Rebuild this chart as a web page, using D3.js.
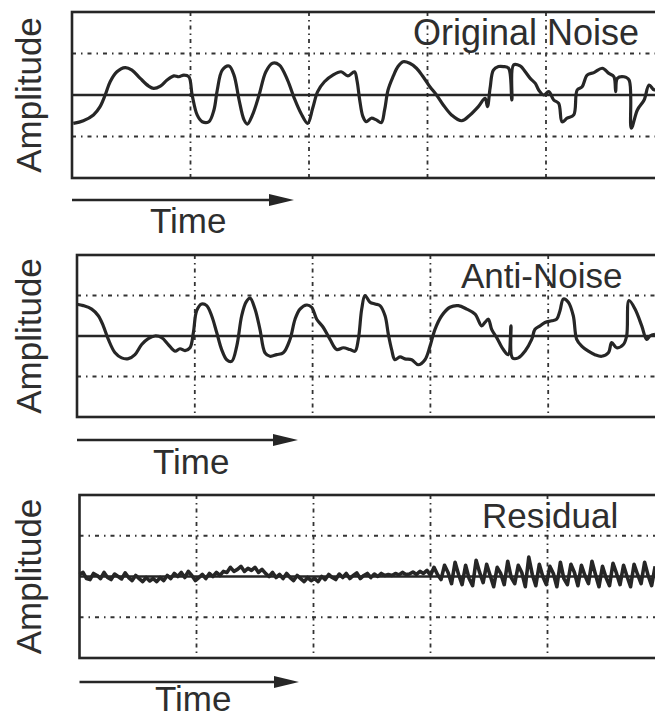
<!DOCTYPE html>
<html>
<head>
<meta charset="utf-8">
<script src="https://cdn.jsdelivr.net/npm/d3@7"></script>
<style>
  body { margin: 0; background: #fff; }
  svg { display: block; font-family: "Liberation Sans", Arial, Helvetica, sans-serif; }
</style>
</head>
<body>
<script>
// time is in grid divisions (0..5), amplitude in grid units (-4..4)
var noiseT = [0.011, 0.096, 0.181, 0.237, 0.280, 0.322, 0.379, 0.449, 0.506, 0.576,
  0.647, 0.689, 0.746, 0.802, 0.859, 0.901, 0.944, 0.986, 1.014, 1.056,
  1.099, 1.155, 1.198, 1.226, 1.268, 1.325, 1.367, 1.410, 1.452, 1.480,
  1.523, 1.579, 1.636, 1.692, 1.749, 1.819, 1.876, 1.932, 1.989, 2.031,
  2.073, 2.130, 2.201, 2.271, 2.328, 2.384, 2.405, 2.427, 2.455, 2.483,
  2.525, 2.568, 2.610, 2.638, 2.667, 2.709, 2.751, 2.794, 2.850, 2.907,
  2.963, 3.020, 3.076, 3.133, 3.203, 3.288, 3.359, 3.429, 3.486, 3.506,
  3.528, 3.556, 3.599, 3.641, 3.684, 3.712, 3.726, 3.782, 3.825, 3.867,
  3.910, 3.938, 3.980, 4.023, 4.065, 4.107, 4.136, 4.178, 4.234, 4.263,
  4.305, 4.347, 4.404, 4.475, 4.531, 4.573, 4.588, 4.602, 4.658, 4.701,
  4.720, 4.771, 4.828, 4.870, 4.913, 4.941];
var noiseV = [-1.37, -1.24, -0.96, -0.56, 0, 0.64, 1.12, 1.32, 1.2, 0.8,
  0.43, 0.32, 0.43, 0.72, 0.92, 0.88, 0.96, 0.88, 0, -0.96,
  -1.29, -1.29, -0.72, 0.24, 1.2, 1.4, 0.96, -0.24, -1.2, -1.4,
  -0.96, 0, 1.12, 1.53, 1.45, 0.72, -0.16, -0.88, -1.37, -0.64,
  0.16, 0.64, 0.96, 1.12, 0.92, 1.12, 0.7, -0.2, -1.04, -1.29,
  -1.12, -1.2, -1.33, -0.72, 0.24, 0.88, 1.37, 1.6, 1.53, 1.29,
  0.88, 0.4, 0, -0.48, -0.96, -1.24, -0.96, -0.56, -0.16, -0.56,
  0.32, 1.2, 1.37, 1.37, 1.29, -0.24, 1.45, 1.4, 1.12, 0.8,
  0.56, 0.24, 0, 0.16, -0.24, -0.4, -1.29, -1.12, -0.96, 0.24,
  0.4, 0.96, 1.08, 1.29, 1.04, 0.88, 0.16, 0.8, 0.88, 0.72,
  -1.6, -0.72, -0.24, 0.48, 0.24, 0.4];

var antiT = [0, 0.054, 0.125, 0.181, 0.223, 0.266, 0.323, 0.379, 0.436, 0.492,
  0.549, 0.605, 0.662, 0.719, 0.775, 0.832, 0.874, 0.917, 0.959, 0.988,
  1.016, 1.058, 1.101, 1.143, 1.186, 1.228, 1.271, 1.313, 1.356, 1.398,
  1.435, 1.469, 1.511, 1.553, 1.596, 1.638, 1.695, 1.751, 1.808, 1.851,
  1.893, 1.950, 1.992, 2.035, 2.091, 2.148, 2.205, 2.261, 2.317, 2.360,
  2.388, 2.417, 2.445, 2.487, 2.530, 2.572, 2.615, 2.643, 2.671, 2.699,
  2.742, 2.784, 2.841, 2.897, 2.954, 2.997, 3.039, 3.096, 3.166, 3.237,
  3.308, 3.379, 3.435, 3.463, 3.492, 3.520, 3.563, 3.619, 3.661, 3.684,
  3.696, 3.746, 3.803, 3.860, 3.888, 3.930, 3.973, 4.030, 4.072, 4.100,
  4.129, 4.171, 4.213, 4.242, 4.284, 4.341, 4.397, 4.454, 4.511, 4.539,
  4.581, 4.638, 4.666, 4.686, 4.737, 4.794, 4.836, 4.864, 4.907];
var antiV = [1.57, 1.5, 1.33, 1.0, 0.5, -0.17, -0.83, -1.08, -1.12, -0.92,
  -0.42, -0.13, 0, -0.08, -0.42, -0.75, -0.63, -0.72, -0.58, 0.17,
  1.25, 1.58, 1.5, 1.0, 0.17, -0.67, -1.17, -1.25, -0.5, 1.0,
  1.67, 1.87, 1.33, 0.33, -0.83, -1.0, -0.92, -0.83, -0.17, 0.83,
  1.33, 1.53, 1.42, 0.83, 0.42, -0.17, -0.67, -0.58, -0.67, -0.75,
  -0.17, 1.33, 2.0, 1.67, 1.58, 1.5, 1.0, 0.08, -0.67, -1.17,
  -1.03, -1.13, -1.17, -1.42, -1.17, -0.5, 0.33, 1.0, 1.42, 1.5,
  1.33, 1.08, 0.5, 0.67, 0.83, 0.33, -0.08, -0.67, -0.92, 0.5,
  -1.08, -1.08, -0.75, -0.17, 0.33, 0.5, 0.67, 0.75, 0.83, 1.25,
  1.83, 1.67, 1.0, -0.17, -0.5, -0.75, -0.92, -1.0, -0.83, -0.33,
  -0.58, -0.42, 0, 1.75, 1.33, 0.5, -0.17, 0, 0.08];

// residual is sampled evenly, one value every residualDt divisions
var residualDt = 0.03;
var residualV = [0.1, 0.2, -0.1, -0.15, 0.15, 0.05, -0.1, 0.2, -0.05, -0.15, 0.12, 0.0,
  -0.12, 0.18, -0.05, -0.2, 0.05, -0.1, -0.25, -0.05, -0.22, -0.1, -0.25, -0.05,
  -0.2, 0.05, -0.1, 0.15, 0.0, 0.2, -0.05, 0.25, 0.05,
  -0.2, -0.05, 0.1, -0.1, 0.15, 0.0, 0.2, 0.05, 0.25,
  0.2, 0.45, 0.25, 0.35, 0.5, 0.25, 0.4, 0.3, 0.45, 0.2, 0.35, 0.15,
  0.0, 0.2, -0.05, 0.1, -0.1, 0.15, -0.05, -0.2, 0.05, -0.1, -0.25, -0.05, -0.2,
  -0.1, -0.25, 0.0, -0.15, 0.1, -0.05, -0.15, 0.12, -0.05, 0.15, -0.1, 0.05,
  0.18, -0.1, 0.05, 0.15, -0.05, 0.12, 0.0, 0.15, 0.05, 0.1,
  0.05, 0.15, 0.08, 0.2, 0.1, 0.12, 0.22, 0.1, 0.25, 0.15, 0.3,
  0.05, 0.45, 0.1, -0.15, 0.55, 0.2,
  -0.35, 0.7, 0.1, -0.4, 0.55, -0.1, -0.45, 0.8, 0.2, -0.3,
  0.6, 0.05, -0.5, 0.45, 0.15, -0.4, 0.75, -0.05, -0.35, 0.55,
  0.2, -0.5, 0.95, 0.1, -0.45, 0.6, 0.0, -0.4, 0.5, 0.15,
  -0.5, 0.7, -0.1, -0.4, 0.6, 0.2, -0.45, 0.55, 0.05, -0.35,
  0.75, 0.1, -0.5, 0.5, -0.05, -0.45, 0.65, 0.15, -0.4, 0.55,
  0.0, -0.5, 0.6, 0.1, -0.35, 0.7, 0.05, -0.45, 0.5];

var gridX = [1, 2, 3, 4];
var gridY = [-2, 2];
var titles = ["Original Noise", "Anti-Noise", "Residual"];

var ink = "#262626";
var textInk = "#2e2e2e";

var panels = [
  { title: titles[0], pts: d3.zip(noiseT, noiseV), left: 72, div: 118.5, top: 12, bottom: 178,
    titleX: 413, titleY: 45, titleSize: 36, arrowY: 200, arrowEnd: 294, timeX: 150, timeY: 233,
    curve: d3.curveCatmullRom, width: 3.2 },
  { title: titles[1], pts: d3.zip(antiT, antiV), left: 77, div: 117.8, top: 255, bottom: 417,
    titleX: 461, titleY: 288, titleSize: 35, arrowY: 440, arrowEnd: 298, timeX: 153, timeY: 474,
    curve: d3.curveCatmullRom, width: 3.2 },
  { title: titles[2], pts: residualV.map(function (v, i) { return [i * residualDt, v]; }),
    left: 79.5, div: 117, top: 495, bottom: 658,
    titleX: 482, titleY: 528, titleSize: 35, arrowY: 682, arrowEnd: 299, timeX: 155, timeY: 711,
    curve: d3.curveLinear, width: 3.6 }
];

var svg = d3.select("body").append("svg")
  .attr("width", 655)
  .attr("height", 719);

panels.forEach(function (p) {
  var x = d3.scaleLinear().domain([0, 5]).range([p.left, p.left + 5 * p.div]);
  var y = d3.scaleLinear().domain([-4, 4]).range([p.bottom, p.top]);
  var g = svg.append("g");

  // dash-dot grid
  g.selectAll(".gx").data(gridX).enter().append("line")
    .attr("x1", function (d) { return x(d); })
    .attr("x2", function (d) { return x(d); })
    .attr("y1", y(4)).attr("y2", y(-4))
    .attr("stroke", "#333").attr("stroke-width", 1.8)
    .attr("stroke-dasharray", "4,4,1.5,4");
  g.selectAll(".gy").data(gridY).enter().append("line")
    .attr("y1", function (d) { return y(d); })
    .attr("y2", function (d) { return y(d); })
    .attr("x1", x(0)).attr("x2", x(5))
    .attr("stroke", "#333").attr("stroke-width", 1.8)
    .attr("stroke-dasharray", "4,5,1.5,5");

  // zero line
  g.append("line")
    .attr("x1", x(0)).attr("x2", x(5))
    .attr("y1", y(0)).attr("y2", y(0))
    .attr("stroke", ink).attr("stroke-width", 2.6);

  // frame
  g.append("rect")
    .attr("x", x(0)).attr("y", y(4))
    .attr("width", x(5) - x(0)).attr("height", y(-4) - y(4))
    .attr("fill", "none").attr("stroke", ink).attr("stroke-width", 2.6);

  g.append("text")
    .attr("x", p.titleX).attr("y", p.titleY)
    .attr("font-size", p.titleSize).attr("fill", textInk)
    .text(p.title);

  var line = d3.line()
    .x(function (d) { return x(d[0]); })
    .y(function (d) { return y(d[1]); })
    .curve(p.curve);

  g.append("path")
    .datum(p.pts)
    .attr("d", line)
    .attr("fill", "none")
    .attr("stroke", ink)
    .attr("stroke-width", p.width)
    .attr("stroke-linejoin", "round");

  // y label
  g.append("text")
    .attr("transform", "translate(41," + y(0) + ") rotate(-90)")
    .attr("text-anchor", "middle")
    .attr("font-size", 35).attr("fill", textInk)
    .text("Amplitude");

  // time arrow
  g.append("line")
    .attr("x1", x(0)).attr("x2", p.arrowEnd - 20)
    .attr("y1", p.arrowY).attr("y2", p.arrowY)
    .attr("stroke", ink).attr("stroke-width", 2.6);
  g.append("path")
    .attr("d", "M" + (p.arrowEnd - 25) + "," + (p.arrowY - 6) +
      "L" + p.arrowEnd + "," + p.arrowY +
      "L" + (p.arrowEnd - 25) + "," + (p.arrowY + 6) + "Z")
    .attr("fill", ink);

  g.append("text")
    .attr("x", p.timeX).attr("y", p.timeY)
    .attr("font-size", 35).attr("fill", textInk)
    .text("Time");
});
</script>
</body>
</html>
